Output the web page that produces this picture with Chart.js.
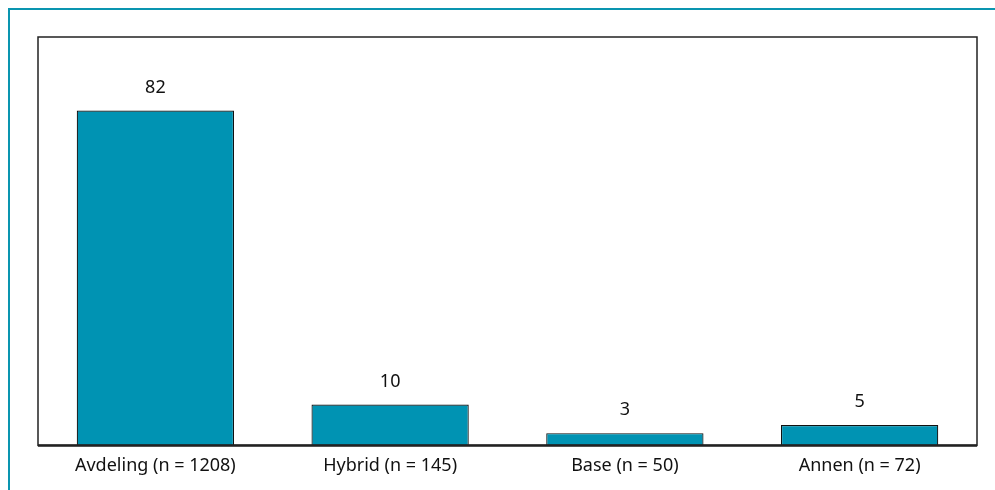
<!DOCTYPE html>
<html>
<head>
<meta charset="utf-8">
<script src="https://cdn.jsdelivr.net/npm/chart.js@4"></script>
<style>
  html, body { margin: 0; padding: 0; background: #fff; }
  .frame {
    position: absolute; left: 8px; top: 8px; width: 1000px; height: 500px;
    border-left: 2px solid #0a95b0; border-top: 2px solid #0a95b0;
  }
  .wrap { position: absolute; left: 0; top: 0; width: 995px; height: 490px; }
</style>
</head>
<body>
<div class="frame"></div>
<div class="wrap"><canvas id="chart"></canvas></div>
<script>
const categories = ['Avdeling (n = 1208)', 'Hybrid (n = 145)', 'Base (n = 50)', 'Annen (n = 72)'];
const values = [82, 10, 3, 5];

const frameAndLabels = {
    id: 'frameAndLabels',
    afterDatasetsDraw(chart) {
        const ctx = chart.ctx;
        const a = chart.chartArea;
        ctx.save();
        ctx.strokeStyle = '#222';
        ctx.lineWidth = 1.5;
        ctx.strokeRect(a.left, a.top, a.right - a.left, a.bottom - a.top);
        ctx.lineWidth = 2.5;
        ctx.beginPath();
        ctx.moveTo(a.left, a.bottom);
        ctx.lineTo(a.right, a.bottom);
        ctx.stroke();

        ctx.fillStyle = '#111';
        ctx.font = '18px "Noto Sans"';
        ctx.textAlign = 'center';
        ctx.textBaseline = 'middle';
        chart.getDatasetMeta(0).data.forEach((bar, i) => {
            ctx.fillText(values[i], bar.x, bar.y - 23);
        });
        ctx.restore();
    }
};

new Chart(document.getElementById('chart'), {
    type: 'bar',
    data: {
        labels: categories,
        datasets: [{
            data: values,
            backgroundColor: '#0093b3',
            borderColor: '#111',
            borderWidth: 1.2,
            borderSkipped: 'bottom',
            barPercentage: 0.67,
            categoryPercentage: 1
        }]
    },
    options: {
        responsive: true,
        maintainAspectRatio: false,
        animation: false,
        layout: { padding: { left: 38, top: 37, right: 18, bottom: 3 } },
        plugins: {
            legend: { display: false },
            tooltip: { enabled: false }
        },
        scales: {
            x: {
                grid: { display: false, drawTicks: false },
                border: { display: false },
                ticks: {
                    padding: 10,
                    color: '#111',
                    font: { family: '"Noto Sans"', size: 18 },
                    maxRotation: 0
                }
            },
            y: {
                display: false,
                min: 0,
                max: 100
            }
        }
    },
    plugins: [frameAndLabels]
});
</script>
</body>
</html>
